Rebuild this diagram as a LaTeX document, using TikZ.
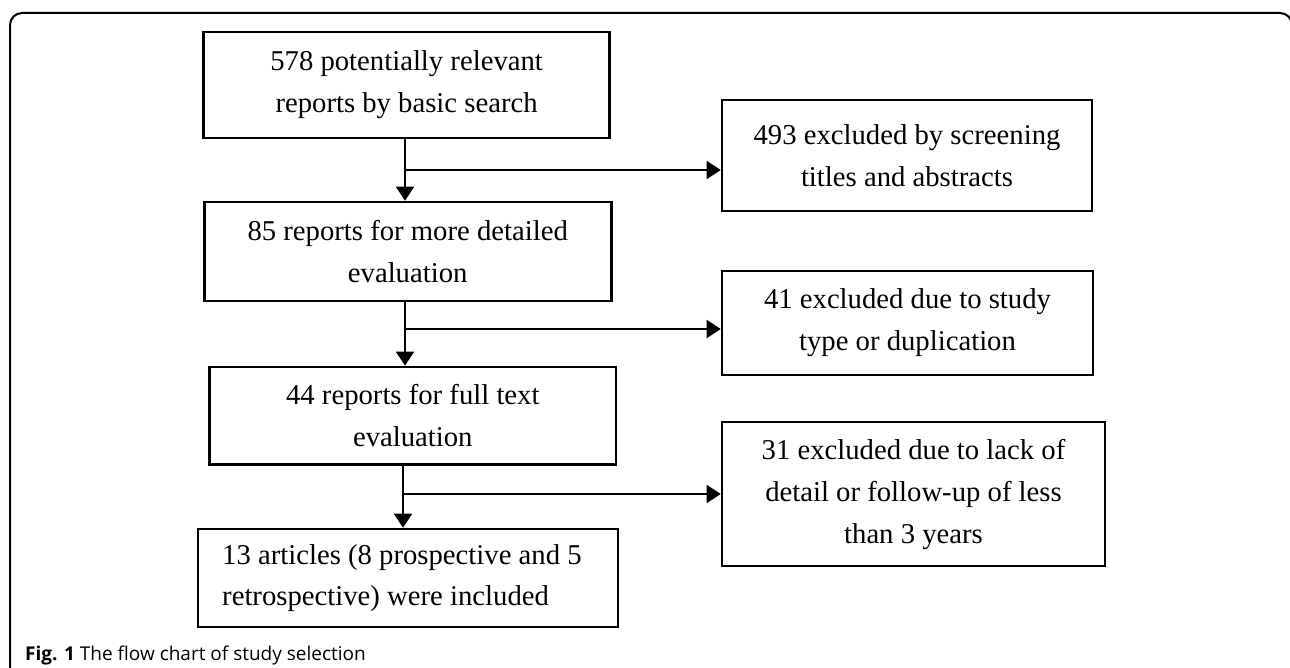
\documentclass[tikz,border=0pt]{standalone}
\usepackage{fontspec}
\setmainfont{Liberation Serif}
\newfontfamily\capfont{Open Sans}
\usetikzlibrary{arrows.meta}
\begin{document}
\begin{tikzpicture}[x=1pt,y=-1pt,
  box/.style={draw=black, line width=2.6pt, rectangle, inner sep=0pt, align=center,
    font=\fontsize{28.7}{42}\selectfont},
  arr/.style={draw=black, line width=2pt, -{Triangle[length=14pt,width=18pt]}},
  frame/.style={draw=black, line width=2pt, rounded corners=12pt}]
\useasboundingbox (0,0) rectangle (1290,668);
\begin{scope}
\clip (0,0) rectangle (1290,668);
\draw[frame] (10,700) -- (10,13) -- (1292,13) -- (1292,700);
\end{scope}
% left column
\node[box, minimum width=406pt, minimum height=106pt] (b1) at (406.6,85) {578 potentially relevant\\reports by basic search};
\node[box, minimum width=407pt, minimum height=99pt] (b2) at (407.7,251.5) {85 reports for more detailed\\evaluation};
\node[box, minimum width=406.5pt, minimum height=97.5pt] (b3) at (412.8,415.7) {44 reports for full text\\evaluation};
\node[box, minimum width=420pt, minimum height=98pt] (b4) at (408,578) {};
\node[anchor=west, inner sep=0pt, align=left, font=\fontsize{28.7}{41}\selectfont] (b4t) at (222,578) {13 articles (8 prospective and 5\\retrospective) were included};
% right column
\node[box, minimum width=370pt, minimum height=111pt] (r1) at (907,155.5) {493 excluded by screening\\titles and abstracts};
\node[box, minimum width=371pt, minimum height=104pt] (r2) at (907.5,323) {41 excluded due to study\\type or duplication};
\node[box, minimum width=383pt, minimum height=144pt] (r3) at (913.5,494) {31 excluded due to lack of\\detail or follow-up of less\\than 3 years};
% junctions
\coordinate (j1) at (405,170);
\coordinate (j2) at (405,329);
\coordinate (j3) at (403,494);
\draw[arr] (b1.south -| j1) -- (b2.north -| j1);
\draw[arr] (j1) -- (r1.west |- j1);
\draw[arr] (b2.south -| j2) -- (b3.north -| j2);
\draw[arr] (j2) -- (r2.west |- j2);
\draw[arr] (b3.south -| j3) -- (b4.north -| j3);
\draw[arr] (j3) -- (r3.west |- j3);
% caption
\node[anchor=base west, inner sep=0pt, font=\capfont\fontsize{19}{22}\selectfont] (cap) at (25,660) {\textbf{Fig. 1} The flow chart of study selection};
\end{tikzpicture}
\end{document}
